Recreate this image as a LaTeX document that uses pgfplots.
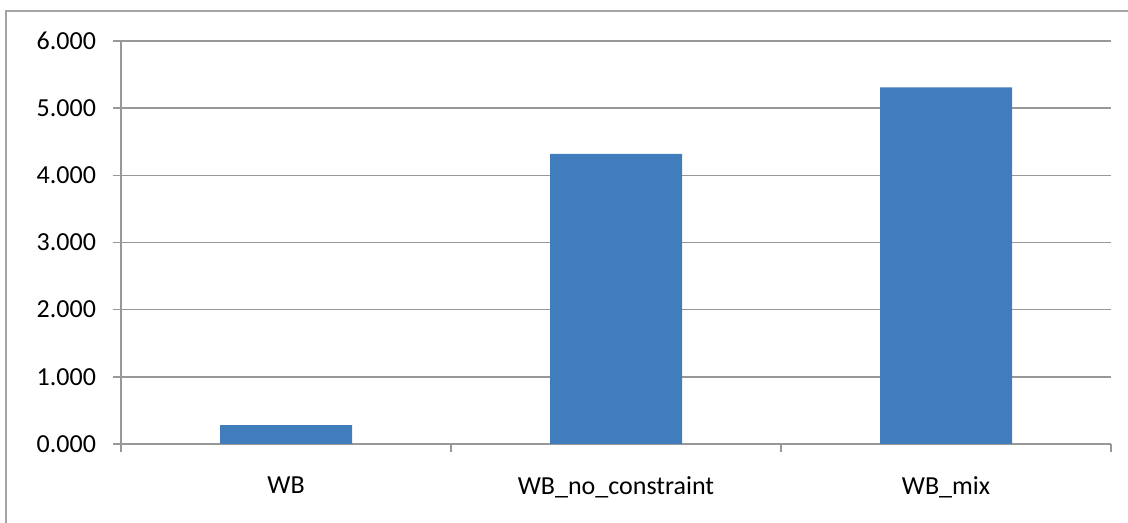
\documentclass[border=0pt]{standalone}
\usepackage{fontspec}
\setmainfont{Carlito}
\usepackage{pgfplots}
\pgfplotsset{compat=1.18}
\definecolor{barblue}{RGB}{65,125,188}
\definecolor{gridgray}{RGB}{152,152,152}
\definecolor{framegray}{RGB}{165,165,165}
\begin{document}
\begin{tikzpicture}[x=1pt,y=1pt]
\useasboundingbox (0,0) rectangle (564,261.5);
% chart frame (left and top edges)
\draw[framegray, line width=1pt] (3,-5) -- (3,256) -- (570,256);
\begin{axis}[
  at={(60.5pt,39.5pt)}, anchor=south west,
  scale only axis, width=495pt, height=201.5pt,
  xmin=-0.5, xmax=2.5, ymin=0, ymax=6,
  axis x line*=bottom, axis y line*=left,
  axis line style={draw=gridgray, line width=0.75pt, -},
  ybar, bar width=0.4, bar shift=0pt,
  ymajorgrids, grid style={gridgray, line width=0.75pt},
  ytick={0,1,2,3,4,5,6},
  xtick={0,1,2},
  xticklabels={WB, WB\_no\_constraint, WB\_mix},
  minor xtick={-0.5,0.5,1.5,2.5},
  tick align=outside,
  major tick length=4pt, minor tick length=4pt,
  tick style={gridgray, line width=0.75pt},
  every major x tick/.style={draw=none},
  every tick label/.append style={font=\fontsize{13}{15}\selectfont, text=black},
  xticklabel style={yshift=-9pt},
  yticklabel style={xshift=-5pt, /pgf/number format/.cd, fixed, fixed zerofill, precision=3, assume math mode=true},
  clip=false,
]
\addplot[fill=barblue, draw=none] coordinates {(0,0.28) (1,4.32) (2,5.31)};
\end{axis}
\end{tikzpicture}
\end{document}
